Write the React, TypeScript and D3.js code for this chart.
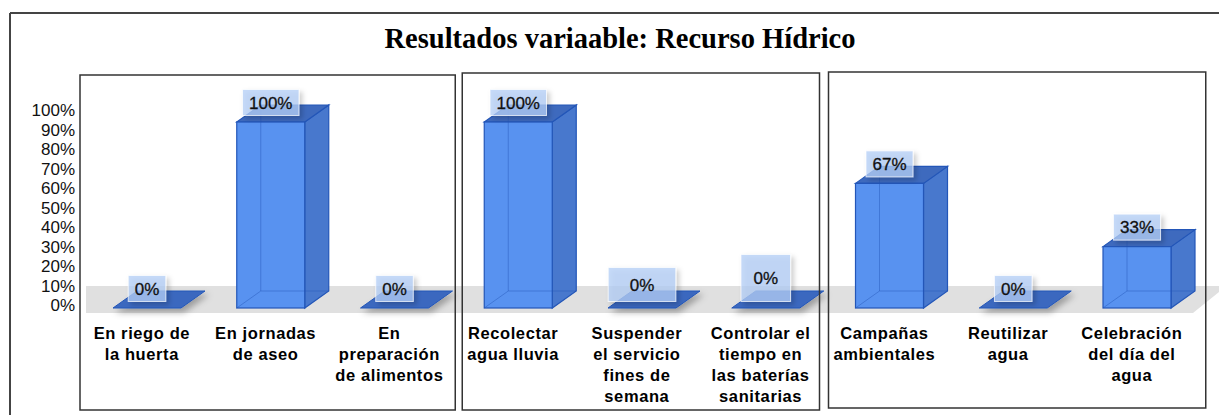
import React from "react";
import * as d3 from "d3";

const categories: string[] = [
  "En riego de la huerta",
  "En jornadas de aseo",
  "En preparación de alimentos",
  "Recolectar agua lluvia",
  "Suspender el servicio fines de semana",
  "Controlar el tiempo en las baterías sanitarias",
  "Campañas ambientales",
  "Reutilizar agua",
  "Celebración del día del agua",
];
const categoryLines: string[][] = [
  ["En riego de", "la huerta"],
  ["En jornadas", "de aseo"],
  ["En", "preparación", "de alimentos"],
  ["Recolectar", "agua lluvia"],
  ["Suspender", "el servicio", "fines de", "semana"],
  ["Controlar el", "tiempo en", "las baterías", "sanitarias"],
  ["Campañas", "ambientales"],
  ["Reutilizar", "agua"],
  ["Celebración", "del día del", "agua"],
];
const values: number[] = [0, 1, 0, 1, 0, 0, 0.67, 0, 0.33];
const groups: [number, number][] = [
  [0, 3],
  [3, 6],
  [6, 9],
];
const yTicks: number[] = [0, 0.1, 0.2, 0.3, 0.4, 0.5, 0.6, 0.7, 0.8, 0.9, 1];
const title = "Resultados variaable: Recurso Hídrico";

// style constants
const W = 1219;
const H = 415;
const DX = 24;
const DY = -17;
const BAR_OFF = 33;
const BAR_W = 68;
const groupBoxInset: [number, number, number, number][] = [
  [0, 4, 75, 410],
  [11, -3, 73, 410],
  [6, 12, 72, 408],
];
const labelBoxGrow: [number, number][] = [
  [0, 0], [0, 0], [0, 0], [0, 0], [30, 8], [12, 21], [0, 0], [0, 0], [0, 0],
];

const measureCanvas = typeof document !== "undefined" ? document.createElement("canvas") : null;
function textWidth(t: string, font: string): number {
  const ctx = measureCanvas ? measureCanvas.getContext("2d") : null;
  if (!ctx) return t.length * 9;
  ctx.font = font;
  return ctx.measureText(t).width;
}

export default function App() {
  const x = d3.scaleBand<string>().domain(categories).range([80, 1193.75]).padding(0);
  const y = d3.scaleLinear().domain([0, 1]).range([308, 122]);
  const yAxis = d3.scaleLinear().domain([0, 1]).range([305, 110]);
  const fmt = d3.format(".0%");
  const front = "#5892f0";
  const side = "#4878cd";
  const top = "#3e6abe";
  const edge = "#2356b8";
  const labelFont = "17px 'Liberation Sans', Arial, sans-serif";

  return (
    <svg width={W} height={H} style={{ position: "absolute", left: 0, top: 0, background: "#fff" }}
      fontFamily="'Liberation Sans', Arial, sans-serif">
      <defs>
        <filter id="shadow" x="-30%" y="-30%" width="170%" height="170%">
          <feDropShadow dx="3" dy="3" stdDeviation="2.5" floodColor="#000" floodOpacity="0.25" />
        </filter>
        <filter id="flatShadow" x="-30%" y="-50%" width="170%" height="250%">
          <feDropShadow dx="3" dy="4" stdDeviation="3" floodColor="#000" floodOpacity="0.3" />
        </filter>
      </defs>
      {/* outer frame */}
      <line x1={10} y1={13} x2={W} y2={13} stroke="#444" strokeWidth={2} />
      <line x1={10} y1={13} x2={10} y2={H} stroke="#444" strokeWidth={2} />
      {/* title */}
      <text x={620} y={48} textAnchor="middle" fontFamily="'Liberation Serif', 'Times New Roman', serif"
        fontWeight="bold" fontSize={28.5} fill="#000">{title}</text>
      {/* y axis labels */}
      {yTicks.map((t) => (
        <text key={t} x={75} y={yAxis(t)} dy="0.36em" textAnchor="end" fontSize={17} fill="#111">{fmt(t)}</text>
      ))}
      {/* floor */}
      <polygon points={`86,286 ${W},286 ${W},292 1193,313 86,313`} fill="#e0e0e0" />
      {/* bars */}
      {categories.map((c, i) => {
        const v = values[i];
        const x0 = (x(c) as number) + BAR_OFF;
        const x1 = x0 + BAR_W;
        const yb = y(0);
        const yt = y(v);
        if (v <= 0) {
          return (
            <polygon key={c} filter="url(#flatShadow)"
              points={`${x0},${yb} ${x1},${yb} ${x1 + DX},${yb + DY} ${x0 + DX},${yb + DY}`}
              fill="#3b68bf" stroke={edge} strokeWidth={1} />
          );
        }
        return (
          <g key={c}>
            <polygon points={`${x1},${yt} ${x1 + DX},${yt + DY} ${x1 + DX},${yb + DY} ${x1},${yb}`}
              fill={side} stroke={edge} strokeWidth={1.2} />
            <polygon points={`${x0},${yt} ${x0 + DX},${yt + DY} ${x1 + DX},${yt + DY} ${x1},${yt}`}
              fill={top} stroke={edge} strokeWidth={1.2} />
            <rect x={x0} y={yt} width={BAR_W} height={yb - yt} fill={front} stroke={edge} strokeWidth={1.2} />
            <g stroke={edge} strokeOpacity={0.45} strokeWidth={1}>
              <line x1={x0 + DX} y1={yt + DY} x2={x0 + DX} y2={yb + DY} />
              <line x1={x0 + DX} y1={yb + DY} x2={x1 + DX} y2={yb + DY} />
              <line x1={x0} y1={yb} x2={x0 + DX} y2={yb + DY} />
            </g>
          </g>
        );
      })}
      {/* data labels */}
      {categories.map((c, i) => {
        const v = values[i];
        const cx = (x(c) as number) + BAR_OFF + BAR_W / 2;
        const cy = y(v) - 19.5;
        const label = fmt(v);
        const [gw, gh] = labelBoxGrow[i];
        const bw = textWidth(label, labelFont) + 13 + gw;
        const bh = 26 + gh;
        const bottom = cy + 13;
        const ty = bottom - bh / 2;
        return (
          <g key={c}>
            <rect x={cx - bw / 2} y={bottom - bh} width={bw} height={bh}
              fill="#b4cff7" fillOpacity={0.75} stroke="#ffffff" strokeOpacity={0.7} strokeWidth={1}
              filter="url(#shadow)" />
            <text x={cx} y={ty} dy="0.36em" textAnchor="middle" fontSize={17} fill="#111"
              stroke="#111" strokeWidth={0.3}>{label}</text>
          </g>
        );
      })}
      {/* category labels */}
      {categories.map((c, i) => {
        const cx = (x(c) as number) + x.bandwidth() / 2;
        return (
          <text key={c} x={cx} y={333} textAnchor="middle" fontWeight="bold" fontSize={16.5}
            letterSpacing={0.6} fill="#000">
            {categoryLines[i].map((l, j) => (
              <tspan key={j} x={cx} y={333 + j * 21} dy="0.36em">{l}</tspan>
            ))}
          </text>
        );
      })}
      {/* group boxes */}
      {groups.map(([s, e], gi) => {
        const [li, ri, tp, bt] = groupBoxInset[gi];
        const left = (x(categories[s]) as number) + li;
        const right = e < categories.length ? (x(categories[e]) as number) + ri : x.range()[1] + ri;
        return (
          <rect key={gi} x={left} y={tp} width={right - left} height={bt - tp}
            fill="none" stroke="#333" strokeWidth={1.5} />
        );
      })}
    </svg>
  );
}
